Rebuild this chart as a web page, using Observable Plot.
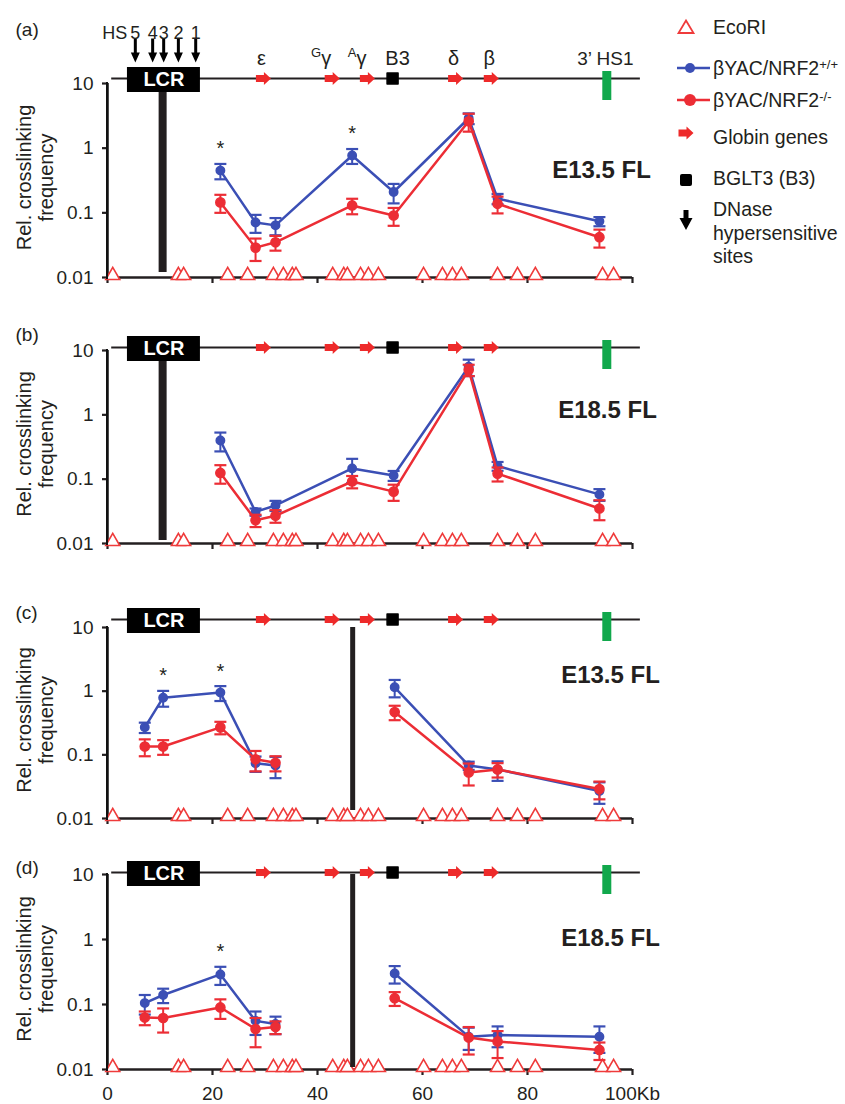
<!DOCTYPE html>
<html><head><meta charset="utf-8">
<script src="https://cdn.jsdelivr.net/npm/d3@7"></script>
<script src="https://cdn.jsdelivr.net/npm/@observablehq/plot@0.6"></script>
<style>
body{margin:0;background:#fff;}
#wrap{position:relative;width:845px;height:1104px;font-family:"Liberation Sans",Arial,sans-serif;color:#231f20;}
.panel{position:absolute;left:0;}
.yline{position:absolute;background:#111;z-index:5;}
.leg{position:absolute;left:713px;font-size:19.5px;line-height:24px;white-space:nowrap;}
.leg sup{font-size:13px;vertical-align:6px;line-height:0;}
g[aria-label^="y-axis"] path, g[aria-label^="x-axis"] path{stroke-width:2.2;}
g[aria-label^="y-axis"] text, g[aria-label^="x-axis"] text{font-size:19px;}
</style></head>
<body><div id="wrap"></div>
<script>
// ---------- data ----------
const kbAB = [21.5, 28.2, 32.0, 46.6, 54.5, 68.8, 74.3, 93.7];
const fragAB = [0, 0, 0, 0, 0, 0, 0, 0];
const kbCD = [7.1, 10.6, 21.5, 28.2, 32.0, 54.7, 68.8, 74.3, 93.7];
const fragCD = [0, 0, 0, 0, 0, 1, 1, 1, 1];

const wtA = [0.45, 0.071, 0.064, 0.77, 0.21, 2.9, 0.166, 0.074];
const wtA_sem = [0.12, 0.022, 0.019, 0.2, 0.07, 0.55, 0.03, 0.012];
const koA = [0.145, 0.029, 0.035, 0.13, 0.091, 2.6, 0.138, 0.042];
const koA_sem = [0.045, 0.011, 0.009, 0.035, 0.028, 0.8, 0.04, 0.013];

const wtB = [0.4, 0.031, 0.039, 0.147, 0.114, 5.6, 0.16, 0.058];
const wtB_sem = [0.13, 0.004, 0.007, 0.06, 0.02, 1.6, 0.025, 0.012];
const koB = [0.125, 0.023, 0.027, 0.092, 0.064, 5.0, 0.122, 0.035];
const koB_sem = [0.04, 0.005, 0.006, 0.02, 0.018, 1.0, 0.03, 0.012];

const wtC = [0.27, 0.79, 0.95, 0.074, 0.068, 1.15, 0.068, 0.059, 0.027];
const wtC_sem = [0.05, 0.22, 0.25, 0.02, 0.025, 0.35, 0.01, 0.02, 0.01];
const koC = [0.135, 0.135, 0.27, 0.085, 0.075, 0.47, 0.053, 0.059, 0.029];
const koC_sem = [0.04, 0.035, 0.06, 0.03, 0.02, 0.12, 0.02, 0.015, 0.009];

const wtD = [0.105, 0.14, 0.29, 0.056, 0.05, 0.3, 0.032, 0.034, 0.032];
const wtD_sem = [0.035, 0.035, 0.09, 0.022, 0.015, 0.09, 0.012, 0.012, 0.014];
const koD = [0.063, 0.062, 0.09, 0.042, 0.045, 0.125, 0.031, 0.027, 0.02];
const koD_sem = [0.015, 0.025, 0.03, 0.02, 0.01, 0.03, 0.014, 0.012, 0.006];

const ecoRI = [1.0, 13.5, 14.5, 22.9, 26.7, 31.6, 33.5, 35.2, 35.9, 42.9, 45.0, 45.7, 48.2, 49.7, 51.6, 60.2, 63.8, 65.7, 67.4, 74.3, 78.1, 81.5, 94.3, 96.4];
const geneNames = ["ε", "Gγ", "Aγ", "δ", "β"];
const geneKb = [29.7, 42.8, 49.5, 66.3, 73.1];
const b3Kb = 54.3;
const hs1Kb = 95.2;
const lcr = [3.8, 17.7];
const hsNames = ["5", "4", "3", "2", "1"];
const hsKb = [5.3, 8.6, 10.7, 13.5, 16.8];
const locus = [0.8, 101.5];
const xTicks = [0, 20, 40, 60, 80, 100];
const yTicks = [0.01, 0.1, 1, 10];
const yDomain = [0.01, 10];

const blue = "#3b4fb5", red = "#ec2d35", geneRed = "#ee2a2a", ecoColor = "#ef3b3b", green = "#11a84c";

// ---------- symbols ----------
const arrowRight = {draw(c){c.moveTo(-7.5,-3.5);c.lineTo(0.5,-3.5);c.lineTo(0.5,-6.5);c.lineTo(7.5,0);c.lineTo(0.5,6.5);c.lineTo(0.5,3.5);c.lineTo(-7.5,3.5);c.closePath();}};
const arrowDown = {draw(c){c.moveTo(-1.5,-14);c.lineTo(1.5,-14);c.lineTo(1.5,0);c.lineTo(4.5,0);c.lineTo(0,10);c.lineTo(-4.5,0);c.lineTo(-1.5,0);c.closePath();}};
const cap = {draw(c){c.moveTo(-6,0);c.lineTo(6,0);}};

function rows(kb, frag, wt, wtSem, ko, koSem) {
  const out = [];
  kb.forEach((k, i) => {
    out.push({kb: k, frag: frag[i], g: "wt", v: wt[i], s: wtSem[i]});
    out.push({kb: k, frag: frag[i], g: "ko", v: ko[i], s: koSem[i]});
  });
  return out;
}

function series(data, color, r) {
  return [
    Plot.line(data, {x: "kb", y: "v", z: "frag", stroke: color, strokeWidth: 2.5}),
    Plot.ruleX(data, {x: "kb", y1: d => d.v - d.s, y2: d => d.v + d.s, stroke: color, strokeWidth: 2}),
    Plot.dot(data, {x: "kb", y: d => d.v + d.s, symbol: cap, stroke: color, strokeWidth: 2.2, fill: "none"}),
    Plot.dot(data, {x: "kb", y: d => d.v - d.s, symbol: cap, stroke: color, strokeWidth: 2.2, fill: "none"}),
    Plot.dot(data, {x: "kb", y: "v", r, fill: color, stroke: color})
  ];
}

const panels = [
  {tag: "(a)", stage: "E13.5 FL", kb: kbAB, frag: fragAB, wt: wtA, wtS: wtA_sem, ko: koA, koS: koA_sem, vp: 10.5, vpW: 8, stars: [21.5, 46.6], top: 0, mt: 83, h: 194, mb: 20, gy: -5, tagDy: -54, stDx: -31, stDy: 87, first: true},
  {tag: "(b)", stage: "E18.5 FL", kb: kbAB, frag: fragAB, wt: wtB, wtS: wtB_sem, ko: koB, koS: koB_sem, vp: 10.5, vpW: 8, stars: [], top: 297, mt: 53, h: 193, mb: 20, gy: -3, tagDy: -16, stDx: -25, stDy: 60},
  {tag: "(c)", stage: "E13.5 FL", kb: kbCD, frag: fragCD, wt: wtC, wtS: wtC_sem, ko: koC, koS: koC_sem, vp: 46.7, vpW: 5, stars: [10.6, 21.5], top: 563, mt: 64, h: 191, mb: 20, gy: -8, tagDy: -15, stDx: -22, stDy: 48},
  {tag: "(d)", stage: "E18.5 FL", kb: kbCD, frag: fragCD, wt: wtD, wtS: wtD_sem, ko: koD, koS: koD_sem, vp: 46.7, vpW: 5, stars: [21.5], top: 838, mt: 36, h: 195, mb: 35, gy: -2, tagDy: -7, stDx: -22, stDy: 64, last: true}
];

const wrap = document.getElementById("wrap");

function supers(svg) {
  svg.querySelectorAll("text").forEach(t => {
    const s = t.textContent;
    if (s === "Gγ" || s === "Aγ") {
      while (t.firstChild) t.removeChild(t.firstChild);
      const ns = "http://www.w3.org/2000/svg";
      const a = document.createElementNS(ns, "tspan");
      a.setAttribute("font-size", "13"); a.setAttribute("dy", "-8"); a.textContent = s[0];
      const b = document.createElementNS(ns, "tspan");
      b.setAttribute("dy", "8"); b.textContent = s[1];
      t.appendChild(a); t.appendChild(b);
    }
  });
}

panels.forEach(p => {
  const data = rows(p.kb, p.frag, p.wt, p.wtS, p.ko, p.koS);
  const wt = data.filter(d => d.g === "wt"), ko = data.filter(d => d.g === "ko");
  const starRows = p.stars.map(k => wt.find(d => d.kb === k));
  const marks = [
    Plot.ruleY([0.01], {x1: 0, x2: 100, strokeWidth: 2.5}),
    Plot.ruleX([xTicks[0]], {y1: yDomain[0], y2: yDomain[1], strokeWidth: 2.5, stroke: "#111"}),
    Plot.dot(ecoRI, {x: d => d, y: 0.01, symbol: "triangle", r: 5.2, fill: "white", stroke: ecoColor, strokeWidth: 1.6, dy: -2}),
    Plot.ruleX([p.vp], {y1: 0.01, y2: 10, strokeWidth: p.vpW, insetTop: p.gy}),
    Plot.ruleY([10], {x1: locus[0], x2: locus[1], dy: p.gy, strokeWidth: 2}),
    Plot.rect([lcr], {x1: d => d[0], x2: d => d[1], y1: 10, y2: 10, insetTop: -12.5, insetBottom: -12.5, dy: p.gy + 1.5, fill: "#000"}),
    Plot.text(["LCR"], {x: (lcr[0] + lcr[1]) / 2, y: 10, text: d => d, fill: "white", fontWeight: "bold", fontSize: 20, dy: p.gy + 1.5}),
    Plot.rect([hs1Kb], {x1: d => d, x2: d => d, y1: 10, y2: 10, insetLeft: -4.5, insetRight: -4.5, insetTop: -7, insetBottom: -22, dy: p.gy, fill: green}),
    Plot.dot([b3Kb], {x: d => d, y: 10, symbol: "square", r: 6.2, fill: "#000", stroke: "#000", strokeWidth: 1.5, strokeLinejoin: "round", dy: p.gy}),
    Plot.dot(geneKb, {x: d => d, y: 10, symbol: arrowRight, fill: geneRed, stroke: "none", dy: p.gy})
  ];
  if (p.first) {
    marks.push(
      Plot.dot(hsKb, {x: d => d, y: 10, symbol: arrowDown, fill: "#000", stroke: "none", dy: p.gy - 26}),
      Plot.text(hsNames, {x: (d, i) => hsKb[i], y: 10, text: d => d, fontSize: 18, dy: -50}),
      Plot.text(["HS"], {x: hsKb[0], y: 10, text: d => d, fontSize: 18, textAnchor: "end", dx: -8, dy: -50}),
      Plot.text(geneNames, {filter: d => !d.includes("γ"), x: (d, i) => geneKb[i], y: 10, text: d => d, fontSize: 20, dx: -2, dy: -25}),
      Plot.text(geneNames, {filter: d => d.includes("γ"), x: (d, i) => geneKb[i], y: 10, text: d => d, fontSize: 20, textAnchor: "end", dx: -1, dy: -25}),
      Plot.text(["B3"], {x: b3Kb, y: 10, text: d => d, fontSize: 20, dx: 5, dy: -25}),
      Plot.text(["3’ HS1"], {x: hs1Kb, y: 10, text: d => d, fontSize: 19, dx: -2, dy: -25})
    );
  }
  marks.push(
    ...series(wt, blue, 4.2),
    ...series(ko, red, 4.6),
    Plot.text(starRows, {x: "kb", y: d => d.v + d.s, text: () => "*", fontSize: 20, dy: -15}),
    Plot.text([p.tag], {frameAnchor: "top-left", text: d => d, fontSize: 19, textAnchor: "start", lineAnchor: "middle", dx: -92, dy: p.tagDy}),
    Plot.text([p.stage], {frameAnchor: "top-right", text: d => d, fontSize: 24, fontWeight: "bold", textAnchor: "middle", lineAnchor: "middle", dx: p.stDx, dy: p.stDy}),
    Plot.text(["Rel. crosslinking\nfrequency"], {frameAnchor: "left", text: d => d, fontSize: 20, rotate: -90, lineHeight: 1.1, textAnchor: "middle", lineAnchor: "middle", dx: -73, dy: -3})
  );
  const chart = Plot.plot({
    width: 845,
    height: p.mt + p.h + p.mb,
    marginLeft: 107, marginRight: 213, marginTop: p.mt, marginBottom: p.mb,
    style: {fontFamily: '"Liberation Sans", Arial, sans-serif', fontSize: "18px", color: "#231f20", background: "transparent"},
    x: {domain: [0, 100], ticks: xTicks, tickSize: 6, tickPadding: 11, label: null,
        tickFormat: p.last ? (d => d === 100 ? "100Kb" : String(d)) : (() => "")},
    y: {type: "log", domain: yDomain, ticks: yTicks, tickSize: 5, tickPadding: 9, label: null, tickFormat: d => String(d)},
    marks
  });
  chart.style.overflow = "visible";
  supers(chart);
  const div = document.createElement("div");
  div.className = "panel";
  div.style.top = p.top + "px";
  div.appendChild(chart);
  wrap.appendChild(div);

  // y-axis line, placed with the plot's own scales
  const sx = chart.scale("x"), sy = chart.scale("y");
  const x0 = sx.apply(xTicks[0]);
  const yTop = sy.apply(yDomain[1]), yBot = sy.apply(yDomain[0]);
  const yl = document.createElement("div");
  yl.className = "yline";
  yl.style.left = (x0 - 1.25) + "px";
  yl.style.width = "2.5px";
  yl.style.top = (p.top + yTop - 1) + "px";
  yl.style.height = (yBot - yTop + 2.5) + "px";
  wrap.appendChild(yl);
});

// ---------- legend ----------
const lg = d3.select(wrap).append("svg")
  .style("position", "absolute").style("left", "660px").style("top", "0px")
  .attr("width", 50).attr("height", 240).attr("viewBox", "660 0 50 240");
lg.append("path").attr("d", "M686,20.5L693.5,33L678.5,33Z").attr("fill", "white").attr("stroke", ecoColor).attr("stroke-width", 1.8);
lg.append("line").attr("x1", 677).attr("x2", 710).attr("y1", 68).attr("y2", 68).attr("stroke", blue).attr("stroke-width", 2.5);
lg.append("circle").attr("cx", 690).attr("cy", 68).attr("r", 5).attr("fill", blue);
lg.append("line").attr("x1", 677).attr("x2", 710).attr("y1", 100).attr("y2", 100).attr("stroke", red).attr("stroke-width", 2.5);
lg.append("circle").attr("cx", 690).attr("cy", 100).attr("r", 6).attr("fill", red);
lg.append("path").attr("transform", "translate(686,133)").attr("d", d3.symbol(arrowRight, 64)()).attr("fill", geneRed);
lg.append("rect").attr("x", 680).attr("y", 174).attr("width", 12).attr("height", 12).attr("rx", 2).attr("fill", "#000");
lg.append("path").attr("d", "M683.5,210L688.5,210L688.5,218L692.5,218L686,230L679.5,218L683.5,218Z").attr("fill", "#000");

const legItems = [
  {top: 15, html: "EcoRI"},
  {top: 56, html: "βYAC/NRF2<sup>+/+</sup>"},
  {top: 88, html: "βYAC/NRF2<sup>-/-</sup>"},
  {top: 125, html: "Globin genes"},
  {top: 166, html: "BGLT3 (B3)"},
  {top: 198, html: "DNase<br>hypersensitive<br>sites"}
];
legItems.forEach(it => {
  const d = document.createElement("div");
  d.className = "leg";
  d.style.top = it.top + "px";
  if (it.html.includes("<br>")) d.style.lineHeight = "23.5px";
  d.innerHTML = it.html;
  wrap.appendChild(d);
});
</script>
</body></html>
